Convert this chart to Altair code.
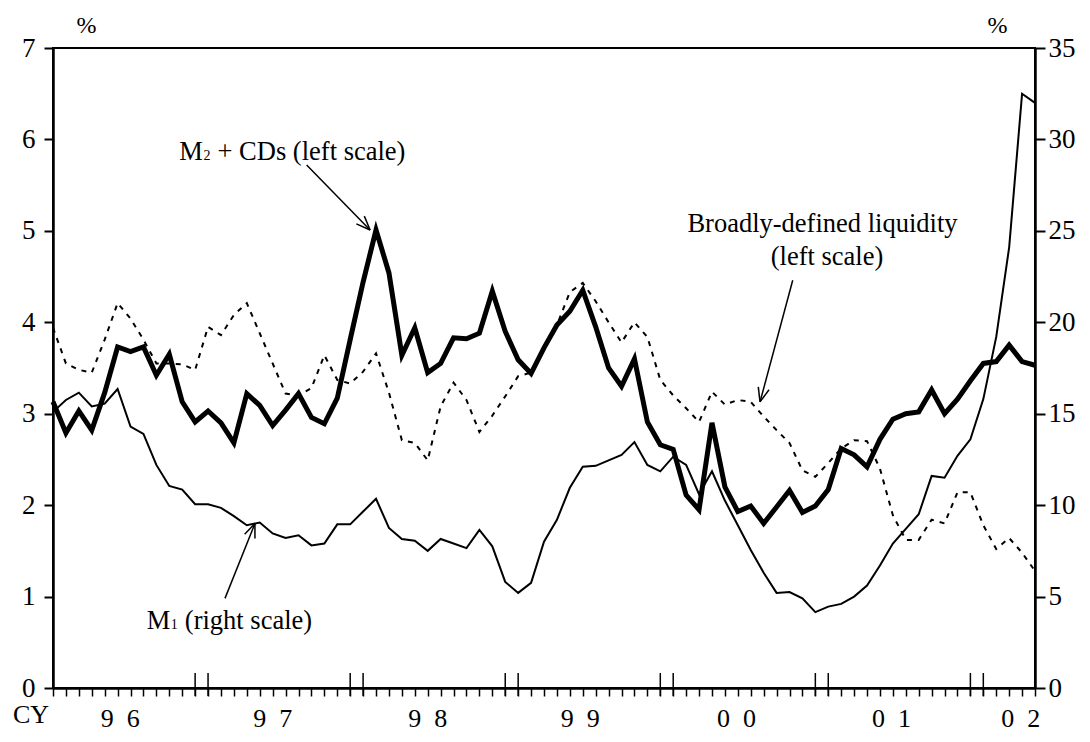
import math
import altair as alt
import pandas as pd

# ---------------- data (monthly, Jan 1996 = index 0 ... May 2002 = 76) -------------
m2_cds = [3.13, 2.79, 3.03, 2.82, 3.23, 3.73, 3.68, 3.73, 3.42, 3.65,
          3.13, 2.91, 3.03, 2.90, 2.68, 3.22, 3.09, 2.87, 3.04, 3.22,
          2.96, 2.89, 3.17, 3.81, 4.44, 5.01, 4.54, 3.64, 3.94, 3.45,
          3.55, 3.83, 3.82, 3.88, 4.34, 3.90, 3.59, 3.44, 3.72, 3.97,
          4.12, 4.35, 3.95, 3.50, 3.30, 3.60, 2.91, 2.66, 2.61, 2.11,
          1.95, 2.90, 2.20, 1.93, 1.99, 1.80, 1.98, 2.16, 1.92, 1.99,
          2.17, 2.62, 2.55, 2.42, 2.72, 2.94, 3.00, 3.02, 3.26, 3.00,
          3.16, 3.36, 3.55, 3.57, 3.75, 3.57, 3.53]

broad_liq = [3.94, 3.55, 3.48, 3.45, 3.81, 4.21, 4.04, 3.81, 3.55, 3.55,
             3.54, 3.48, 3.95, 3.86, 4.08, 4.21, 3.88, 3.55, 3.22, 3.20,
             3.28, 3.64, 3.37, 3.33, 3.46, 3.66, 3.23, 2.71, 2.68, 2.49,
             3.08, 3.34, 3.15, 2.80, 2.98, 3.19, 3.41, 3.45, 3.72, 3.97,
             4.33, 4.43, 4.23, 4.00, 3.78, 4.00, 3.84, 3.37, 3.20, 3.06,
             2.91, 3.24, 3.10, 3.15, 3.13, 2.97, 2.82, 2.68, 2.38, 2.31,
             2.46, 2.62, 2.71, 2.70, 2.40, 1.89, 1.62, 1.62, 1.84, 1.80,
             2.14, 2.14, 1.78, 1.52, 1.64, 1.48, 1.28]

m1 = [15.1, 15.75, 16.15, 15.4, 15.55, 16.35, 14.3, 13.9, 12.2, 11.05,
      10.85, 10.05, 10.05, 9.85, 9.4, 8.9, 9.05, 8.45, 8.2, 8.35,
      7.8, 7.9, 8.95, 8.95, 9.65, 10.35, 8.75, 8.15, 8.05, 7.5,
      8.15, 7.9, 7.65, 8.65, 7.75, 5.8, 5.2, 5.75, 8.0, 9.2,
      10.95, 12.1, 12.15, 12.45, 12.75, 13.45, 12.2, 11.85, 12.65, 12.2,
      10.6, 11.85, 10.25, 8.9, 7.55, 6.3, 5.2, 5.25, 4.9, 4.15,
      4.45, 4.6, 5.0, 5.6, 6.7, 7.9, 8.7, 9.5, 11.6, 11.5,
      12.7, 13.6, 15.8, 19.2, 24.1, 32.5, 32.0]

month_idx = list(range(len(m2_cds)))
year_tick_idx = [11, 12, 23, 24, 35, 36, 47, 48, 59, 60, 71, 72]
year_labels = ["9\u20026", "9\u20027", "9\u20028", "9\u20029", "0\u20020", "0\u20021", "0\u20022"]
year_label_pos = [5.2, 17.0, 29.0, 40.8, 52.9, 64.9, 74.9]
left_ticks = [0, 1, 2, 3, 4, 5, 6, 7]
right_ticks = [0, 5, 10, 15, 20, 25, 30, 35]

# ---------------- layout / style -------------
FONT = "Liberation Serif"
W, H = 982, 640
XD = [0, 76]
YL_D = [0, 7]
YR_D = [0, 35]
AX_FS = 27
ANN_FS = 26.5
SUB_FS = 14

df = pd.DataFrame({"k": month_idx, "m2": m2_cds, "broad": broad_liq, "m1": m1})

xscale = alt.Scale(domain=XD, nice=False, zero=False)
xaxis = alt.Axis(values=month_idx, labels=False, title=None, grid=False, orient="bottom",
                 tickSize=8, tickWidth=1.5, tickColor="black",
                 domainColor="black", domainWidth=2.5)
yl_scale = alt.Scale(domain=YL_D, nice=False, zero=False)
yl_axis = alt.Axis(values=left_ticks, title=None, grid=False, orient="left",
                   tickSize=9, tickWidth=2, tickColor="black",
                   domainColor="black", domainWidth=2.5,
                   labelFont=FONT, labelFontSize=AX_FS, labelColor="black", labelPadding=9)
yr_axis = alt.Axis(values=right_ticks, title=None, grid=False, orient="right",
                   tickSize=10, tickWidth=2, tickColor="black",
                   domainColor="black", domainWidth=2.5,
                   labelFont=FONT, labelFontSize=AX_FS, labelColor="black", labelPadding=3)


def X(f):
    return alt.X(f, type="quantitative", scale=xscale, axis=xaxis)


def YL(f):
    return alt.Y(f, type="quantitative", scale=yl_scale, axis=yl_axis)


# ---------------- series -------------
m1_line = alt.Chart(df).mark_line(color="black", strokeWidth=2).encode(
    x=X("k"),
    y=alt.Y("m1", type="quantitative", scale=alt.Scale(domain=YR_D, nice=False, zero=False), axis=yr_axis),
)
broad_line = alt.Chart(df).mark_line(color="black", strokeWidth=2, strokeDash=[5, 6]).encode(
    x=X("k"), y=YL("broad"))
m2_line = alt.Chart(df).mark_line(color="black", strokeWidth=5).encode(
    x=X("k"), y=YL("m2"))

# ---------------- axis decorations -------------
tall = alt.Chart(pd.DataFrame({"k": year_tick_idx})).mark_rule(color="black", strokeWidth=1.5).encode(
    x=X("k"), y=alt.value(H - 15), y2=alt.value(H + 8))

years = alt.Chart(pd.DataFrame({"k": year_label_pos, "t": year_labels})).mark_text(
    font=FONT, fontSize=26, color="black", align="center", baseline="alphabetic").encode(
    x=X("k"), y=alt.value(H + 39), text="t:N")

cy = alt.Chart(pd.DataFrame({"k": [-1.7], "t": ["CY"]})).mark_text(
    font=FONT, fontSize=26, color="black", align="center", baseline="alphabetic").encode(
    x=X("k"), y=alt.value(H + 35), text="t:N")

pct = alt.Chart(pd.DataFrame({"k": [2.6, 73.1], "v": [7.16, 7.16], "t": ["%", "%"]})).mark_text(
    font=FONT, fontSize=24, color="black", align="center", baseline="alphabetic").encode(
    x=X("k"), y=YL("v"), text="t:N")


# ---------------- annotations -------------
def txt(kx, v, s, size, dx=0, align="left"):
    return alt.Chart(pd.DataFrame({"k": [kx], "v": [v], "t": [s]})).mark_text(
        font=FONT, fontSize=size, color="black", align=align, baseline="alphabetic", dx=dx).encode(
        x=X("k"), y=YL("v"), text="t:N")


M_W = 0.889 * ANN_FS
S_W = 0.5 * SUB_FS
SP = 0.25 * ANN_FS
ann = [
    txt(9.78, 5.78, "M", ANN_FS),
    txt(9.78, 5.78, "2", SUB_FS, dx=M_W + 0.5),
    txt(9.78, 5.78, "+ CDs (left scale)", ANN_FS, dx=M_W + S_W + 1 + SP),
    txt(7.25, 0.65, "M", ANN_FS),
    txt(7.25, 0.65, "1", SUB_FS, dx=M_W + 0.5),
    txt(7.25, 0.65, "(right scale)", ANN_FS, dx=M_W + S_W + 1 + SP),
    txt(59.55, 4.99, "Broadly-defined liquidity", ANN_FS, align="center"),
    txt(59.9, 4.63, "(left scale)", ANN_FS, align="center"),
]


def to_px(kx, v):
    return kx * W / (XD[1] - XD[0]), (YL_D[1] - v) * H / YL_D[1]


def to_data(xp, yp):
    return xp * (XD[1] - XD[0]) / W, YL_D[1] - yp * YL_D[1] / H


arrow_defs = [((19.63, 5.72), (24.54, 5.01)),
              ((13.31, 0.98), (15.63, 1.80)),
              ((57.25, 4.46), (54.72, 3.13))]
rows = []
HEAD, ANG = 15.0, 0.38
for a, b in arrow_defs:
    x0, y0 = to_px(*a)
    x1, y1 = to_px(*b)
    L = math.hypot(x1 - x0, y1 - y0)
    ux, uy = (x1 - x0) / L, (y1 - y0) / L
    rows.append({"xa": a[0], "ya": a[1], "xb": b[0], "yb": b[1]})
    for ang in (ANG, -ANG):
        c, s = math.cos(ang), math.sin(ang)
        hx = x1 - HEAD * (ux * c - uy * s)
        hy = y1 - HEAD * (ux * s + uy * c)
        hk, hv = to_data(hx, hy)
        rows.append({"xa": b[0], "ya": b[1], "xb": hk, "yb": hv})
arrows = alt.Chart(pd.DataFrame(rows)).mark_rule(color="black", strokeWidth=1.5).encode(
    x=X("xa"), y=YL("ya"), x2="xb", y2="yb")

left_group = alt.layer(broad_line, m2_line, tall, years, cy, pct, arrows, *ann)

chart = alt.layer(m1_line, left_group).resolve_scale(y="independent").properties(
    width=W, height=H,
    autosize=alt.AutoSizeParams(type="none"),
    padding={"left": 45, "top": 40, "right": 44, "bottom": 46},
    background="white",
).configure_view(stroke="black", strokeWidth=2)

chart.save("out.html", embed_options={"renderer": "svg", "actions": False})
